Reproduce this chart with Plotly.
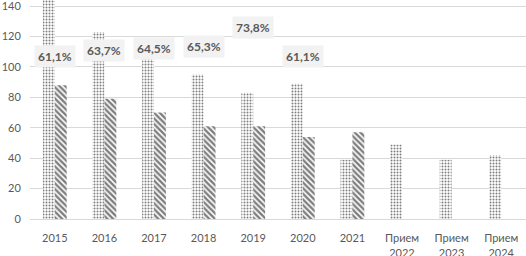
import plotly.graph_objects as go

categories = ["2015", "2016", "2017", "2018", "2019", "2020", "2021",
              "Прием<br>2022", "Прием<br>2023", "Прием<br>2024"]
admitted = [144, 123, 109, 95, 83, 89, 39, 49, 39, 42]
graduated = [88, 79, 70, 61, 61, 54, 57, None, None, None]
pct_cats = ["2015", "2016", "2017", "2018", "2019", "2020"]
pct_vals = [61.1, 63.7, 64.5, 65.3, 73.8, 61.1]
pct_text = ["61,1%", "63,7%", "64,5%", "65,3%", "73,8%", "61,1%"]

fig = go.Figure()
fig.add_trace(go.Bar(
    x=categories, y=admitted,
    marker=dict(color="white", line=dict(width=0),
                pattern=dict(shape=".", fgcolor="black", bgcolor="white",
                             size=3, solidity=0.35)),
    showlegend=False))
fig.add_trace(go.Bar(
    x=categories, y=graduated,
    marker=dict(color="white", line=dict(width=0),
                pattern=dict(shape="\\", fgcolor="black", bgcolor="white",
                             size=4, solidity=0.6)),
    showlegend=False))

fig.update_layout(
    width=526, height=256,
    margin=dict(l=30, r=0, t=0, b=37),
    paper_bgcolor="white", plot_bgcolor="white",
    bargap=0.52, bargroupgap=0, barmode="group",
    font=dict(family="Lato", size=11, color="#595959"),
    xaxis=dict(type="category", range=[-0.5, 9.5], automargin=False,
               showgrid=False, showline=False, ticks="outside", ticklen=9,
               ticklabeloverflow="allow",
               tickcolor="rgba(0,0,0,0)", tickfont=dict(size=11, color="#595959")),
    yaxis=dict(range=[0, 144], tickvals=[0, 20, 40, 60, 80, 100, 120, 140],
               automargin=False, ticklabeloverflow="allow",
               showgrid=True, gridcolor="#d9d9d9", gridwidth=1,
               zeroline=True, zerolinecolor="#d9d9d9", zerolinewidth=1,
               showline=False, ticks="outside", ticklen=6,
               tickcolor="rgba(0,0,0,0)",
               tickfont=dict(size=11, color="#595959")),
)

# percentage labels placed on a hidden secondary scale
y2_min, y2_max = -8.95, 85.45
for c, v, t in zip(pct_cats, pct_vals, pct_text):
    frac = (v - y2_min) / (y2_max - y2_min)
    fig.add_annotation(x=categories.index(c), y=frac, xref="x", yref="paper",
                       xanchor="center", yanchor="middle",
                       text="<b>" + t + "</b>",
                       showarrow=False, bgcolor="#f2f2f2", borderpad=3,
                       font=dict(family="Lato", size=12, color="#595959"))

fig.write_html("out.html", config={"displayModeBar": False},
               post_script="document.body.style.margin='0';document.body.style.overflow='hidden';")
